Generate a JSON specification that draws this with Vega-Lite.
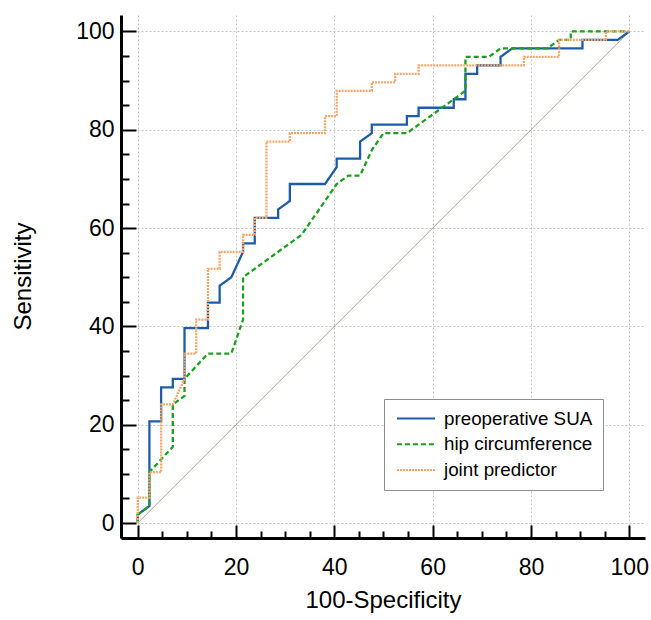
{
  "$schema": "https://vega.github.io/schema/vega-lite/v6.json",
  "width": 524,
  "height": 523,
  "autosize": {"type": "none"},
  "padding": {"left": 121, "top": 15, "right": 6, "bottom": 82},
  "background": "white",
  "config": {
    "view": {"stroke": null},
    "font": "Liberation Sans",
    "axis": {
      "domainColor": "black",
      "domainWidth": 3,
      "tickColor": "black",
      "tickWidth": 2,
      "labelColor": "black",
      "labelFont": "Liberation Sans",
      "labelFontSize": 23,
      "titleFont": "Liberation Sans",
      "titleFontSize": 24,
      "titleFontWeight": "normal",
      "titleColor": "black",
      "gridColor": "#c4c4c4",
      "gridDash": [2, 2],
      "gridWidth": 1
    },
    "legend": {
      "labelFont": "Liberation Sans"
    }
  },
  "datasets": {
    "diag": [
      {"fpr": 0, "tpr": 0},
      {"fpr": 100, "tpr": 100}
    ],
    "roc": [
      {"s": "preoperative SUA", "i": 0, "fpr": 0, "tpr": 0},
      {"s": "preoperative SUA", "i": 1, "fpr": 0, "tpr": 1.72},
      {"s": "preoperative SUA", "i": 2, "fpr": 2.38, "tpr": 3.45},
      {"s": "preoperative SUA", "i": 3, "fpr": 2.38, "tpr": 20.69},
      {"s": "preoperative SUA", "i": 4, "fpr": 4.76, "tpr": 20.69},
      {"s": "preoperative SUA", "i": 5, "fpr": 4.76, "tpr": 27.59},
      {"s": "preoperative SUA", "i": 6, "fpr": 7.14, "tpr": 27.59},
      {"s": "preoperative SUA", "i": 7, "fpr": 7.14, "tpr": 29.31},
      {"s": "preoperative SUA", "i": 8, "fpr": 9.52, "tpr": 29.31},
      {"s": "preoperative SUA", "i": 9, "fpr": 9.52, "tpr": 39.66},
      {"s": "preoperative SUA", "i": 10, "fpr": 14.29, "tpr": 39.66},
      {"s": "preoperative SUA", "i": 11, "fpr": 14.29, "tpr": 44.83},
      {"s": "preoperative SUA", "i": 12, "fpr": 16.67, "tpr": 44.83},
      {"s": "preoperative SUA", "i": 13, "fpr": 16.67, "tpr": 48.28},
      {"s": "preoperative SUA", "i": 14, "fpr": 19.05, "tpr": 50},
      {"s": "preoperative SUA", "i": 15, "fpr": 21.43, "tpr": 55.17},
      {"s": "preoperative SUA", "i": 16, "fpr": 21.43, "tpr": 56.9},
      {"s": "preoperative SUA", "i": 17, "fpr": 23.81, "tpr": 56.9},
      {"s": "preoperative SUA", "i": 18, "fpr": 23.81, "tpr": 62.07},
      {"s": "preoperative SUA", "i": 19, "fpr": 28.57, "tpr": 62.07},
      {"s": "preoperative SUA", "i": 20, "fpr": 28.57, "tpr": 63.79},
      {"s": "preoperative SUA", "i": 21, "fpr": 30.95, "tpr": 65.52},
      {"s": "preoperative SUA", "i": 22, "fpr": 30.95, "tpr": 68.97},
      {"s": "preoperative SUA", "i": 23, "fpr": 38.1, "tpr": 68.97},
      {"s": "preoperative SUA", "i": 24, "fpr": 40.48, "tpr": 72.41},
      {"s": "preoperative SUA", "i": 25, "fpr": 40.48, "tpr": 74.14},
      {"s": "preoperative SUA", "i": 26, "fpr": 45.24, "tpr": 74.14},
      {"s": "preoperative SUA", "i": 27, "fpr": 45.24, "tpr": 77.59},
      {"s": "preoperative SUA", "i": 28, "fpr": 47.62, "tpr": 79.31},
      {"s": "preoperative SUA", "i": 29, "fpr": 47.62, "tpr": 81.03},
      {"s": "preoperative SUA", "i": 30, "fpr": 54.76, "tpr": 81.03},
      {"s": "preoperative SUA", "i": 31, "fpr": 54.76, "tpr": 82.76},
      {"s": "preoperative SUA", "i": 32, "fpr": 57.14, "tpr": 82.76},
      {"s": "preoperative SUA", "i": 33, "fpr": 57.14, "tpr": 84.48},
      {"s": "preoperative SUA", "i": 34, "fpr": 64.29, "tpr": 84.48},
      {"s": "preoperative SUA", "i": 35, "fpr": 64.29, "tpr": 86.21},
      {"s": "preoperative SUA", "i": 36, "fpr": 66.67, "tpr": 86.21},
      {"s": "preoperative SUA", "i": 37, "fpr": 66.67, "tpr": 91.38},
      {"s": "preoperative SUA", "i": 38, "fpr": 69.05, "tpr": 91.38},
      {"s": "preoperative SUA", "i": 39, "fpr": 69.05, "tpr": 93.1},
      {"s": "preoperative SUA", "i": 40, "fpr": 73.81, "tpr": 93.1},
      {"s": "preoperative SUA", "i": 41, "fpr": 73.81, "tpr": 94.83},
      {"s": "preoperative SUA", "i": 42, "fpr": 76.19, "tpr": 96.55},
      {"s": "preoperative SUA", "i": 43, "fpr": 90.48, "tpr": 96.55},
      {"s": "preoperative SUA", "i": 44, "fpr": 90.48, "tpr": 98.28},
      {"s": "preoperative SUA", "i": 45, "fpr": 97.62, "tpr": 98.28},
      {"s": "preoperative SUA", "i": 46, "fpr": 100, "tpr": 100},
      {"s": "hip circumference", "i": 0, "fpr": 0, "tpr": 0},
      {"s": "hip circumference", "i": 1, "fpr": 0, "tpr": 1.72},
      {"s": "hip circumference", "i": 2, "fpr": 2.38, "tpr": 3.45},
      {"s": "hip circumference", "i": 3, "fpr": 2.38, "tpr": 10.34},
      {"s": "hip circumference", "i": 4, "fpr": 7.14, "tpr": 15.52},
      {"s": "hip circumference", "i": 5, "fpr": 7.14, "tpr": 24.14},
      {"s": "hip circumference", "i": 6, "fpr": 9.52, "tpr": 25.86},
      {"s": "hip circumference", "i": 7, "fpr": 9.52, "tpr": 29.31},
      {"s": "hip circumference", "i": 8, "fpr": 14.29, "tpr": 34.48},
      {"s": "hip circumference", "i": 9, "fpr": 19.05, "tpr": 34.48},
      {"s": "hip circumference", "i": 10, "fpr": 21.43, "tpr": 41.38},
      {"s": "hip circumference", "i": 11, "fpr": 21.43, "tpr": 50},
      {"s": "hip circumference", "i": 12, "fpr": 33.33, "tpr": 58.62},
      {"s": "hip circumference", "i": 13, "fpr": 40.48, "tpr": 68.97},
      {"s": "hip circumference", "i": 14, "fpr": 42.86, "tpr": 70.69},
      {"s": "hip circumference", "i": 15, "fpr": 45.24, "tpr": 70.69},
      {"s": "hip circumference", "i": 16, "fpr": 47.62, "tpr": 75.86},
      {"s": "hip circumference", "i": 17, "fpr": 50, "tpr": 79.31},
      {"s": "hip circumference", "i": 18, "fpr": 54.76, "tpr": 79.31},
      {"s": "hip circumference", "i": 19, "fpr": 66.67, "tpr": 87.93},
      {"s": "hip circumference", "i": 20, "fpr": 66.67, "tpr": 94.83},
      {"s": "hip circumference", "i": 21, "fpr": 71.43, "tpr": 94.83},
      {"s": "hip circumference", "i": 22, "fpr": 73.81, "tpr": 96.55},
      {"s": "hip circumference", "i": 23, "fpr": 83.33, "tpr": 96.55},
      {"s": "hip circumference", "i": 24, "fpr": 85.71, "tpr": 98.28},
      {"s": "hip circumference", "i": 25, "fpr": 88.1, "tpr": 98.28},
      {"s": "hip circumference", "i": 26, "fpr": 88.1, "tpr": 100},
      {"s": "hip circumference", "i": 27, "fpr": 100, "tpr": 100},
      {"s": "joint predictor", "i": 0, "fpr": 0, "tpr": 0},
      {"s": "joint predictor", "i": 1, "fpr": 0, "tpr": 5.17},
      {"s": "joint predictor", "i": 2, "fpr": 2.38, "tpr": 5.17},
      {"s": "joint predictor", "i": 3, "fpr": 2.38, "tpr": 10.34},
      {"s": "joint predictor", "i": 4, "fpr": 4.76, "tpr": 10.34},
      {"s": "joint predictor", "i": 5, "fpr": 4.76, "tpr": 24.14},
      {"s": "joint predictor", "i": 6, "fpr": 7.14, "tpr": 24.14},
      {"s": "joint predictor", "i": 7, "fpr": 9.52, "tpr": 29.31},
      {"s": "joint predictor", "i": 8, "fpr": 9.52, "tpr": 34.48},
      {"s": "joint predictor", "i": 9, "fpr": 11.9, "tpr": 34.48},
      {"s": "joint predictor", "i": 10, "fpr": 11.9, "tpr": 41.38},
      {"s": "joint predictor", "i": 11, "fpr": 14.29, "tpr": 41.38},
      {"s": "joint predictor", "i": 12, "fpr": 14.29, "tpr": 51.72},
      {"s": "joint predictor", "i": 13, "fpr": 16.67, "tpr": 51.72},
      {"s": "joint predictor", "i": 14, "fpr": 16.67, "tpr": 55.17},
      {"s": "joint predictor", "i": 15, "fpr": 21.43, "tpr": 55.17},
      {"s": "joint predictor", "i": 16, "fpr": 21.43, "tpr": 58.62},
      {"s": "joint predictor", "i": 17, "fpr": 23.81, "tpr": 58.62},
      {"s": "joint predictor", "i": 18, "fpr": 23.81, "tpr": 62.07},
      {"s": "joint predictor", "i": 19, "fpr": 26.19, "tpr": 62.07},
      {"s": "joint predictor", "i": 20, "fpr": 26.19, "tpr": 77.59},
      {"s": "joint predictor", "i": 21, "fpr": 30.95, "tpr": 77.59},
      {"s": "joint predictor", "i": 22, "fpr": 30.95, "tpr": 79.31},
      {"s": "joint predictor", "i": 23, "fpr": 38.1, "tpr": 79.31},
      {"s": "joint predictor", "i": 24, "fpr": 38.1, "tpr": 82.76},
      {"s": "joint predictor", "i": 25, "fpr": 40.48, "tpr": 82.76},
      {"s": "joint predictor", "i": 26, "fpr": 40.48, "tpr": 87.93},
      {"s": "joint predictor", "i": 27, "fpr": 47.62, "tpr": 87.93},
      {"s": "joint predictor", "i": 28, "fpr": 47.62, "tpr": 89.66},
      {"s": "joint predictor", "i": 29, "fpr": 52.38, "tpr": 89.66},
      {"s": "joint predictor", "i": 30, "fpr": 52.38, "tpr": 91.38},
      {"s": "joint predictor", "i": 31, "fpr": 57.14, "tpr": 91.38},
      {"s": "joint predictor", "i": 32, "fpr": 57.14, "tpr": 93.1},
      {"s": "joint predictor", "i": 33, "fpr": 78.57, "tpr": 93.1},
      {"s": "joint predictor", "i": 34, "fpr": 78.57, "tpr": 94.83},
      {"s": "joint predictor", "i": 35, "fpr": 85.71, "tpr": 94.83},
      {"s": "joint predictor", "i": 36, "fpr": 85.71, "tpr": 98.28},
      {"s": "joint predictor", "i": 37, "fpr": 95.24, "tpr": 98.28},
      {"s": "joint predictor", "i": 38, "fpr": 95.24, "tpr": 100},
      {"s": "joint predictor", "i": 39, "fpr": 100, "tpr": 100}
    ]
  },
  "encoding": {
    "x": {
      "field": "fpr",
      "type": "quantitative",
      "scale": {"domain": [-3.4, 103.2], "nice": false, "zero": false},
      "axis": {
        "title": "100-Specificity",
        "values": [0, 5, 10, 15, 20, 25, 30, 35, 40, 45, 50, 55, 60, 65, 70, 75, 80, 85, 90, 95, 100],
        "labelExpr": "datum.value % 20 === 0 ? datum.label : ''",
        "tickSize": {"condition": {"test": "datum.value % 20 === 0", "value": -13}, "value": -7},
        "gridOpacity": {"condition": {"test": "datum.value % 20 === 0", "value": 1}, "value": 0},
        "labelPadding": 31,
        "labelBaseline": "top",
        "labelFlush": false,
        "titleX": 262,
        "titleY": 69,
        "titleBaseline": "alphabetic",
        "titleAlign": "center"
      }
    },
    "y": {
      "field": "tpr",
      "type": "quantitative",
      "scale": {"domain": [-3.05, 103.35], "nice": false, "zero": false},
      "axis": {
        "title": "Sensitivity",
        "values": [0, 5, 10, 15, 20, 25, 30, 35, 40, 45, 50, 55, 60, 65, 70, 75, 80, 85, 90, 95, 100],
        "labelExpr": "datum.value % 20 === 0 ? datum.label : ''",
        "tickSize": {"condition": {"test": "datum.value % 20 === 0", "value": -15}, "value": -8},
        "gridOpacity": {"condition": {"test": "datum.value % 20 === 0", "value": 1}, "value": 0},
        "labelPadding": 22,
        "labelFlush": false,
        "titleX": -98,
        "titleY": 261,
        "titleAngle": -90,
        "titleBaseline": "middle",
        "titleAlign": "center"
      }
    }
  },
  "layer": [
    {
      "data": {"name": "diag"},
      "mark": {"type": "line", "color": "#b08888", "strokeWidth": 0.9}
    },
    {
      "data": {"name": "roc"},
      "mark": {"type": "line", "strokeWidth": 2.3},
      "encoding": {
        "order": {"field": "i", "type": "quantitative"},
        "color": {
          "field": "s",
          "type": "nominal",
          "scale": {
            "domain": ["preoperative SUA", "hip circumference", "joint predictor"],
            "range": ["#1f5ca8", "#1e9e1e", "#f5a66a"]
          },
          "legend": {
            "title": null,
            "orient": "none",
            "legendX": 263,
            "legendY": 384,
            "direction": "vertical",
            "symbolType": "stroke",
            "symbolSize": 1444,
            "symbolStrokeWidth": 2,
            "clipHeight": 19,
            "rowPadding": 5.7,
            "padding": 10,
            "symbolOffset": 2,
            "labelOffset": 8,
            "labelFontSize": 18.8,
            "labelColor": "black",
            "labelLimit": 400,
            "labelExpr": "datum.label + '\u00a0\u00a0\u00a0\u00a0'",
            "strokeColor": "#8c8c8c",
            "fillColor": "white"
          }
        },
        "strokeDash": {
          "field": "s",
          "type": "nominal",
          "scale": {
            "domain": ["preoperative SUA", "hip circumference", "joint predictor"],
            "range": [[1, 0], [5, 3], [2, 1]]
          },
          "legend": {
            "title": null,
            "orient": "none",
            "legendX": 263,
            "legendY": 384,
            "direction": "vertical",
            "symbolType": "stroke",
            "symbolSize": 1444,
            "symbolStrokeWidth": 2,
            "clipHeight": 19,
            "rowPadding": 5.7,
            "padding": 10,
            "symbolOffset": 2,
            "labelOffset": 8,
            "labelFontSize": 18.8,
            "labelColor": "black",
            "labelLimit": 400,
            "labelExpr": "datum.label + '\u00a0\u00a0\u00a0\u00a0'",
            "strokeColor": "#8c8c8c",
            "fillColor": "white"
          }
        }
      }
    }
  ]
}
